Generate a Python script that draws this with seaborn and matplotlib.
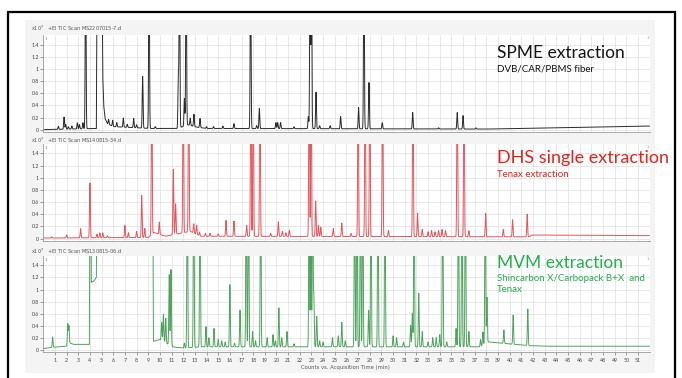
import numpy as np
import matplotlib.pyplot as plt
import seaborn as sns
from matplotlib.patches import Rectangle

# peaks: retention time (min) and height (x10^7)
# a height of 3 means the peak runs off the top of the panel
spme_rt = [1.29, 1.78, 1.92, 2.15, 2.45, 2.92, 3.1, 3.4, 3.63, 5.6, 5.95, 6.3, 6.86, 7.2, 7.75, 8.0,
           8.52, 9.07, 9.6, 11.58, 11.68, 12.1, 12.25, 12.6, 12.92, 13.44, 14.0, 14.6, 15.4, 16.35,
           17.78, 18.3, 18.53, 19.95, 20.1, 20.35, 21.5, 22.73, 22.88, 23.0, 23.39, 23.7, 24.6, 25.5,
           27.04, 27.5, 27.93, 29.07, 31.68, 33.9, 35.5, 36.0, 37.1]
spme_h = [0.05, 0.2, 0.08, 0.04, 0.05, 0.1, 0.07, 0.1, 3, 0.08, 0.1, 0.07, 0.15, 0.05, 0.15, 0.05,
          0.85, 3, 0.03, 0.87, 3, 0.45, 3, 0.12, 0.2, 0.15, 0.03, 0.03, 0.04, 0.08,
          3, 0.05, 0.33, 0.1, 0.1, 0.1, 0.03, 0.2, 3, 3, 0.6, 0.05, 0.05, 0.2,
          0.35, 3, 0.76, 0.1, 0.27, 0.02, 0.27, 0.22, 0.02]
spme_base_rt = [0, 4.55, 4.62, 5.02, 5.1, 5.18, 5.3, 5.5, 6.0, 9.2, 11.5, 12.4, 13.2, 14.0, 38.0, 44.0, 52.0]
spme_base_h = [0.0, 0.02, 3, 3, 0.9, 0.4, 0.18, 0.1, 0.05, 0.02, 0.02, 0.08, 0.04, 0.02, 0.01, 0.03, 0.06]

dhs_rt = [0.72, 2.0, 3.2, 4.0, 4.6, 4.85, 5.1, 5.5, 7.0, 7.3, 8.0, 8.44, 8.7, 9.3, 9.95, 11.15, 11.35,
          12.0, 12.47, 12.9, 13.15, 13.4, 13.9, 14.3, 15.0, 15.67, 16.35, 17.44, 17.8, 18.0, 18.58,
          19.5, 20.16, 20.5, 20.8, 21.1, 22.8, 22.97, 23.36, 23.6, 23.8, 24.87, 25.6, 26.4, 27.0,
          27.6, 28.0, 29.1, 29.6, 31.7, 32.1, 32.5, 33.0, 33.3, 33.6, 33.9, 34.2, 34.5, 35.5, 36.08,
          36.5, 37.94, 39.45, 40.25, 41.5]
dhs_h = [0.02, 0.05, 0.15, 0.9, 0.06, 0.08, 0.08, 0.03, 0.2, 0.08, 0.1, 0.69, 0.15, 3, 0.2, 1.07, 0.5,
         3, 3, 0.15, 0.15, 0.06, 0.05, 0.05, 0.04, 0.26, 0.25, 0.18, 3, 3, 3,
         0.05, 0.24, 0.08, 0.06, 0.1, 3, 3, 0.58, 0.18, 0.15, 0.13, 0.22, 0.05, 3,
         3, 3, 3, 0.1, 3, 0.38, 0.12, 0.08, 0.1, 0.08, 0.1, 0.12, 0.1, 3, 3,
         0.1, 0.38, 0.12, 0.28, 0.37]
dhs_base_rt = [0, 9.0, 9.5, 10.5, 12.6, 13.5, 41.6, 42.0, 52.0]
dhs_base_h = [0.01, 0.02, 0.1, 0.04, 0.12, 0.04, 0.03, 0.06, 0.05]

mvm_rt = [0.8, 2.1, 2.2, 10.15, 10.3, 10.5, 10.8, 10.95, 12.1, 12.35, 12.9, 13.44, 13.95, 14.2, 14.64,
          15.0, 15.3, 15.6, 16.0, 16.4, 16.87, 17.4, 17.6, 17.95, 18.2, 18.64, 19.2, 19.7, 19.9, 20.2,
          20.45, 20.9, 21.5, 22.8, 22.95, 23.1, 23.2, 23.45, 23.7, 24.0, 24.8, 25.3, 25.6, 25.9, 26.7,
          26.9, 27.2, 27.4, 27.9, 28.1, 28.7, 29.3, 30.0, 30.3, 30.9, 31.5, 31.65, 31.8, 32.2, 32.5,
          33.0, 33.4, 33.7, 34.0, 34.25, 34.6, 35.4, 35.6, 35.9, 36.2, 36.5, 37.5, 37.7, 37.9, 38.05,
          39.5, 40.3, 41.55]
mvm_h = [0.17, 0.35, 0.3, 0.3, 0.45, 0.4, 1.15, 1.25, 0.08, 3, 3, 3, 0.33, 0.15, 0.3,
         0.12, 0.1, 0.08, 1.02, 0.06, 0.6, 3, 3, 0.25, 0.1, 3, 0.15, 0.2, 0.1, 0.64,
         0.15, 0.25, 0.05, 3, 3, 3, 0.85, 0.5, 0.1, 0.08, 0.15, 0.18, 0.4, 0.1, 3,
         3, 3, 3, 0.6, 3, 3, 3, 0.18, 0.15, 0.08, 0.35, 0.55, 3, 0.88, 0.25,
         0.08, 0.15, 0.15, 0.2, 3, 0.08, 0.3, 3, 3, 3, 0.25, 0.12, 0.22, 3, 0.75,
         0.22, 0.48, 0.6]
mvm_base_rt = [0, 0.7, 2.0, 2.3, 2.6, 3.95, 4.0, 4.08, 4.12, 4.3, 4.55, 4.62, 9.38, 9.45, 10.0, 11.1,
               12.0, 13.6, 37.5, 38.2, 39.3, 41.6, 43.0, 52.0]
mvm_base_h = [0.03, 0.05, 0.07, 0.12, 0.1, 0.1, 3, 3, 1.12, 1.13, 1.2, 3, 3, 0.15, 0.18, 0.06,
              0.04, 0.06, 0.06, 0.14, 0.12, 0.08, 0.07, 0.07]

headers = [r"x10$^7$   +EI TIC Scan MS2207015-7.d",
           r"x10$^7$   +EI TIC Scan MS140815-34.d",
           r"x10$^7$   +EI TIC Scan MS130815-06.d"]
y_ticks = [0, 0.2, 0.4, 0.6, 0.8, 1.0, 1.2, 1.4]
y_labels = ["0", "0.2", "0.4", "0.6", "0.8", "1", "1.2", "1.4"]
x_ticks = list(range(1, 52))

W, H = 682, 378

sns.set_theme(style="white")
plt.rcParams["font.family"] = ["Lato", "DejaVu Sans"]

fig = plt.figure(figsize=(W / 100, H / 100), dpi=100)
fig.patch.set_facecolor("white")


def box(x0, y0, x1, y1):
    # pixel box (top-left origin) -> figure fraction
    return [x0 / W, 1 - y1 / H, (x1 - x0) / W, (y1 - y0) / H]


def ftext(x, y, s, **kw):
    return fig.text(x / W, 1 - y / H, s, **kw)


# light grey window behind the traces and the black frame round the slide
fig.add_artist(Rectangle((25 / W, 1 - 373 / H), 630 / W, 353 / H, transform=fig.transFigure,
                         facecolor="#f4f4f4", edgecolor="none", zorder=-5))
fig.add_artist(Rectangle((7.5 / W, -0.1), 667 / W, 1 - 12.5 / H + 0.1, transform=fig.transFigure,
                         fill=False, edgecolor="black", lw=1.6, zorder=10))

t = np.arange(0, 52.001, 0.005)


def trace(rt, h, base_rt, base_h, sigma=0.035):
    y = np.interp(t, base_rt, base_h)
    for r, hh in zip(rt, h):
        y = y + hh * np.exp(-0.5 * ((t - r) / sigma) ** 2)
    return y


panels = [
    (trace(spme_rt, spme_h, spme_base_rt, spme_base_h), "#2a2a2a", (35.4, 131.5), 28),
    (trace(dhs_rt, dhs_h, dhs_base_rt, dhs_base_h), "#e5545b", (144.2, 240.5), 140),
    (trace(mvm_rt, mvm_h, mvm_base_rt, mvm_base_h), "#4ea35c", (256.0, 352.3), 251),
]

for i, (sig, col, (top, bot), hy) in enumerate(panels):
    ax = fig.add_axes(box(43.3, top, 649.6, bot))
    ax.set_facecolor("white")
    sns.lineplot(x=t, y=sig, ax=ax, color=col, lw=0.7, estimator=None, sort=False)
    ax.set_xlim(0, 52)
    ax.set_ylim(-0.03, 1.55)
    ax.set_xticks(x_ticks)
    ax.set_yticks(y_ticks)
    ax.set_yticklabels(y_labels)
    ax.grid(True, color="#dedede", lw=0.5)
    ax.set_axisbelow(True)
    for s in ["top", "right"]:
        ax.spines[s].set_visible(False)
    for s in ["left", "bottom"]:
        ax.spines[s].set_color("#9a9a9a")
        ax.spines[s].set_linewidth(0.6)
    ax.tick_params(axis="y", labelsize=3.8, labelcolor="#444444", length=2, width=0.5,
                   color="#777777", pad=1, left=True)
    if i < 2:
        ax.tick_params(axis="x", labelbottom=False, length=0)
    else:
        ax.tick_params(axis="x", labelsize=3.8, labelcolor="#444444", length=2.5, width=0.5,
                       color="#777777", pad=1.5, bottom=True)
    ax.set_xlabel("")
    ax.set_ylabel("")
    ftext(31, hy, headers[i], fontsize=3.6, color="#555555", va="center", family="DejaVu Sans")
    ftext(45, top + 4, "1", fontsize=3, color="#777777", va="center", family="DejaVu Sans")
    ftext(647, top + 3, "1", fontsize=3, color="#999999", va="center", family="DejaVu Sans")

ftext(345, 368, "Counts vs. Acquisition Time (min)", fontsize=3.8, color="#555555",
      ha="center", va="center", family="DejaVu Sans")

# sample labels
ftext(497, 58, "SPME extraction", fontsize=12.5, color="#141414", va="baseline")
ftext(497, 71.3, "DVB/CAR/PBMS fiber", fontsize=7, color="#141414", va="baseline")
ftext(497, 163.3, "DHS single extraction", fontsize=13, color="#e2231a", va="baseline")
ftext(497, 176.7, "Tenax extraction", fontsize=7, color="#e2231a", va="baseline")
ftext(497, 267.7, "MVM extraction", fontsize=12.5, color="#22b04b", va="baseline")
ftext(497, 281.3, "Shincarbon X/Carbopack B+X  and", fontsize=7, color="#22b04b", va="baseline")
ftext(497, 292.5, "Tenax", fontsize=7, color="#22b04b", va="baseline")

fig.savefig("out.png", dpi=100)
